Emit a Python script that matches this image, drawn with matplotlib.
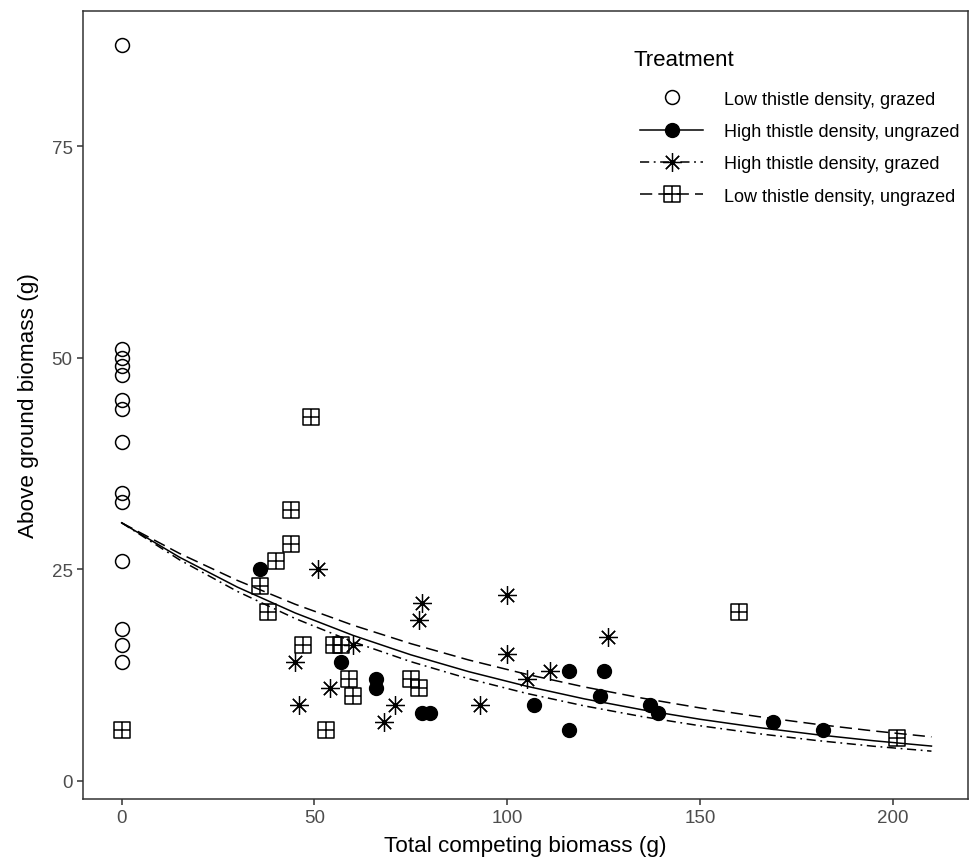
import matplotlib
matplotlib.use('Agg')
import matplotlib.pyplot as plt
from matplotlib.path import Path
from matplotlib.lines import Line2D

plt.rcParams['font.family'] = ['Liberation Sans', 'DejaVu Sans']

# points
low_grazed_x = [0, 0, 0, 0, 0, 0, 0, 0, 0, 0, 0, 0, 0, 0]
low_grazed_y = [87, 51, 50, 49, 48, 45, 44, 40, 34, 33, 26, 18, 16, 14]

high_ungrazed_x = [36, 57, 66, 66, 78, 80, 107, 116, 116, 124, 125, 137, 139, 169, 182]
high_ungrazed_y = [25, 14, 12, 11, 8, 8, 9, 13, 6, 10, 13, 9, 8, 7, 6]

high_grazed_x = [45, 46, 51, 54, 60, 68, 71, 77, 78, 93, 100, 100, 105, 111, 126]
high_grazed_y = [14, 9, 25, 11, 16, 7, 9, 19, 21, 9, 22, 15, 12, 13, 17]

low_ungrazed_x = [0, 36, 38, 40, 44, 44, 47, 49, 53, 55, 57, 59, 60, 75, 77, 160, 201]
low_ungrazed_y = [6, 23, 20, 26, 32, 28, 16, 43, 6, 16, 16, 12, 10, 12, 11, 20, 5]

# fitted curves, values read at regular x positions
curve_x = [0, 15, 30, 45, 60, 75, 90, 105, 120, 135, 150, 165, 180, 195, 210]
curve_high_ungrazed = [30.5, 26.43, 22.90, 19.84, 17.19, 14.89, 12.90, 11.18,
                       9.68, 8.39, 7.27, 6.30, 5.46, 4.73, 4.10]
curve_high_grazed = [30.5, 26.13, 22.39, 19.18, 16.43, 14.08, 12.06, 10.33,
                     8.85, 7.58, 6.50, 5.57, 4.77, 4.08, 3.50]
curve_low_ungrazed = [30.5, 26.88, 23.69, 20.87, 18.39, 16.21, 14.28, 12.59,
                      11.09, 9.77, 8.61, 7.59, 6.69, 5.89, 5.19]

labels = ['Low thistle density, grazed', 'High thistle density, ungrazed',
          'High thistle density, grazed', 'Low thistle density, ungrazed']

# square with a plus inside (ggplot shape 12)
sq_plus = Path(
    [(-1, -1), (1, -1), (1, 1), (-1, 1), (-1, -1), (0, -1), (0, 1), (-1, 0), (1, 0)],
    [Path.MOVETO, Path.LINETO, Path.LINETO, Path.LINETO, Path.CLOSEPOLY,
     Path.MOVETO, Path.LINETO, Path.MOVETO, Path.LINETO])
star = (8, 2, 0)

dash = (0, (8, 4))
dashdot = (0, (6, 3, 1.2, 3))

fig = plt.figure(figsize=(9.71, 8.62), dpi=100)
ax = fig.add_axes([0.0855, 0.072, 0.9115, 0.914])

ax.plot(curve_x, curve_high_ungrazed, color='black', lw=1.1, ls='-')
ax.plot(curve_x, curve_high_grazed, color='black', lw=1.1, ls=dashdot)
ax.plot(curve_x, curve_low_ungrazed, color='black', lw=1.1, ls=dash)

ms = 10
ax.plot(low_grazed_x, low_grazed_y, ls='none', marker='o', ms=ms,
        mfc='none', mec='black', mew=1.1)
ax.plot(high_ungrazed_x, high_ungrazed_y, ls='none', marker='o', ms=ms,
        mfc='black', mec='black')
ax.plot(high_grazed_x, high_grazed_y, ls='none', marker=star, ms=13.5,
        mec='black', mew=0.9)
ax.plot(low_ungrazed_x, low_ungrazed_y, ls='none', marker=sq_plus, ms=11,
        mfc='none', mec='black', mew=1.1)

ax.set_xlim(-10, 219.5)
ax.set_ylim(-2.15, 91)
ax.set_xticks([0, 50, 100, 150, 200])
ax.set_yticks([0, 25, 50, 75])
ax.tick_params(colors='#333333', labelcolor='#4d4d4d', labelsize=13.5,
               length=4, width=1.1)
for s in ax.spines.values():
    s.set_color('#333333')
    s.set_linewidth(1.1)

ax.set_xlabel('Total competing biomass (g)', fontsize=16.2, color='black', labelpad=6)
ax.set_ylabel('Above ground biomass (g)', fontsize=16.2, color='black', labelpad=9)

handles = [
    Line2D([], [], ls='none', marker='o', ms=ms, mfc='none', mec='black', mew=1.1),
    Line2D([], [], ls='-', lw=1.1, color='black', marker='o', ms=ms, mfc='black', mec='black'),
    Line2D([], [], ls=dashdot, lw=1.1, color='black', marker=star, ms=13.5, mew=0.9),
    Line2D([], [], ls=dash, lw=1.1, color='black', marker=sq_plus, ms=11, mfc='none', mew=1.1),
]
leg = ax.legend(handles, labels, loc='upper left',
                bbox_to_anchor=(0.6427, 0.9127), bbox_transform=fig.transFigure,
                frameon=False, fontsize=13,
                handlelength=3.49, handletextpad=1.16, labelspacing=0.85)
fig.text(633 / 971, 1 - 61 / 862, 'Treatment', fontsize=16, color='black',
         ha='left', va='center')

fig.savefig('out.png', dpi=100)
